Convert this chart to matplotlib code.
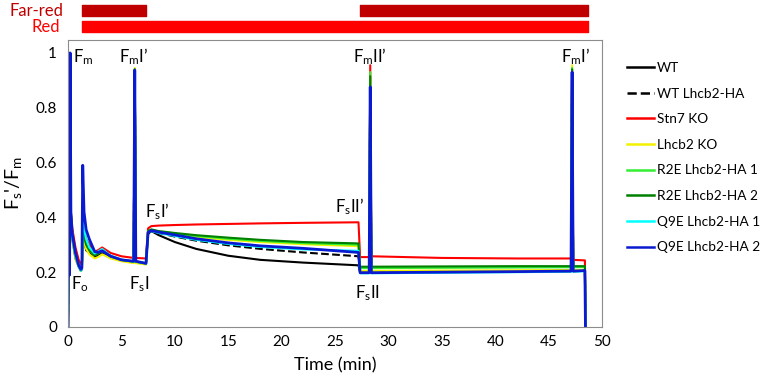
import numpy as np
import matplotlib
matplotlib.use("Agg")
from matplotlib import pyplot as plt
from matplotlib.lines import Line2D

plt.rcParams['font.family'] = ['Lato', 'DejaVu Sans']
plt.rcParams['mathtext.fontset'] = 'custom'
plt.rcParams['mathtext.rm'] = 'Lato'

# time points (min), shared by all traces
time_min = [0.0, 0.03, 0.15, 0.2, 0.27, 0.4, 0.7, 1.0, 1.2, 1.3, 1.38, 1.5, 1.7, 2.0,
            2.5, 2.8, 3.2, 3.6, 4.0, 5.0, 6.15, 6.25, 6.35, 7.3, 7.5, 7.8, 8.5, 10.0,
            12.0, 15.0, 18.0, 22.0, 27.2, 27.35, 28.2, 28.3, 28.4, 35.0, 42.0, 47.1,
            47.2, 47.3, 48.4, 48.45]

wt = [0, 0.19, 0.19, 0.99, 0.40, 0.32, 0.25, 0.22, 0.205, 0.21, 0.34, 0.32, 0.28, 0.27,
      0.255, 0.26, 0.27, 0.262, 0.255, 0.243, 0.236, 0.93, 0.236, 0.23, 0.34, 0.35, 0.335, 0.31,
      0.285, 0.26, 0.245, 0.235, 0.225, 0.198, 0.198, 0.86, 0.198, 0.2, 0.202, 0.203,
      0.92, 0.203, 0.205, 0]
wt_ha = [0, 0.19, 0.19, 0.99, 0.41, 0.33, 0.26, 0.225, 0.21, 0.215, 0.35, 0.33, 0.30, 0.28,
         0.26, 0.265, 0.275, 0.265, 0.257, 0.245, 0.238, 0.93, 0.238, 0.232, 0.345, 0.35, 0.343, 0.33,
         0.315, 0.298, 0.285, 0.272, 0.258, 0.2, 0.2, 0.86, 0.2, 0.202, 0.204, 0.205,
         0.92, 0.205, 0.206, 0]
stn7 = [0, 0.2, 0.2, 0.99, 0.42, 0.36, 0.29, 0.245, 0.23, 0.235, 0.37, 0.35, 0.32, 0.30,
        0.275, 0.28, 0.29, 0.28, 0.27, 0.258, 0.252, 0.94, 0.252, 0.25, 0.36, 0.368, 0.37, 0.372,
        0.374, 0.376, 0.378, 0.38, 0.382, 0.255, 0.255, 0.955, 0.258, 0.252, 0.25, 0.25,
        0.94, 0.245, 0.243, 0]
lhcb2_ko = [0, 0.19, 0.19, 0.99, 0.40, 0.32, 0.25, 0.22, 0.205, 0.21, 0.33, 0.31, 0.285, 0.265,
            0.25, 0.255, 0.265, 0.258, 0.25, 0.24, 0.233, 0.945, 0.233, 0.228, 0.35, 0.352, 0.345, 0.337,
            0.328, 0.318, 0.31, 0.302, 0.295, 0.205, 0.205, 0.9, 0.205, 0.206, 0.207, 0.208,
            0.955, 0.208, 0.209, 0]
r2e_1 = [0, 0.19, 0.19, 0.99, 0.41, 0.33, 0.26, 0.222, 0.207, 0.212, 0.35, 0.33, 0.30, 0.28,
         0.262, 0.268, 0.278, 0.268, 0.258, 0.245, 0.238, 0.94, 0.238, 0.232, 0.35, 0.355, 0.348, 0.34,
         0.332, 0.322, 0.314, 0.306, 0.3, 0.215, 0.215, 0.93, 0.215, 0.216, 0.217, 0.218,
         0.945, 0.218, 0.219, 0]
r2e_2 = [0, 0.19, 0.19, 0.99, 0.41, 0.33, 0.26, 0.222, 0.207, 0.212, 0.35, 0.33, 0.30, 0.28,
         0.262, 0.268, 0.278, 0.268, 0.258, 0.245, 0.238, 0.94, 0.238, 0.232, 0.35, 0.356, 0.35, 0.343,
         0.335, 0.326, 0.318, 0.31, 0.305, 0.22, 0.22, 0.915, 0.22, 0.221, 0.222, 0.222,
         0.94, 0.222, 0.222, 0]
q9e_1 = [0, 0.19, 0.19, 0.99, 0.41, 0.33, 0.26, 0.22, 0.205, 0.21, 0.40, 0.36, 0.32, 0.29,
         0.268, 0.275, 0.285, 0.272, 0.26, 0.246, 0.239, 0.935, 0.239, 0.232, 0.345, 0.35, 0.343, 0.332,
         0.318, 0.303, 0.292, 0.283, 0.278, 0.196, 0.196, 0.87, 0.196, 0.198, 0.2, 0.202,
         0.92, 0.202, 0.203, 0]
q9e_2 = [0, 0.19, 0.19, 1.0, 0.42, 0.34, 0.27, 0.225, 0.21, 0.215, 0.59, 0.42, 0.355, 0.32,
         0.275, 0.272, 0.278, 0.268, 0.258, 0.245, 0.24, 0.937, 0.24, 0.232, 0.345, 0.352, 0.346, 0.336,
         0.322, 0.307, 0.296, 0.287, 0.272, 0.198, 0.198, 0.876, 0.198, 0.2, 0.202, 0.204,
         0.93, 0.204, 0.206, 0]

labels = ['WT', 'WT Lhcb2-HA', 'Stn7 KO', 'Lhcb2 KO', 'R2E Lhcb2-HA 1',
          'R2E Lhcb2-HA 2', 'Q9E Lhcb2-HA 1', 'Q9E Lhcb2-HA 2']
series = [wt, wt_ha, stn7, lhcb2_ko, r2e_1, r2e_2, q9e_1, q9e_2]
colors = ['black', 'black', '#ff0000', '#f2f200', '#33ee33', '#008000', '#00ffff', '#0a1ad0']
styles = ['-', '--', '-', '-', '-', '-', '-', '-']
widths = [1.5, 1.5, 1.5, 1.5, 1.5, 1.5, 1.5, 2.0]

# light periods (min)
far_red_on = [(1.3, 7.3), (27.3, 48.7)]
red_on = [(1.3, 48.7)]

fig = plt.figure(figsize=(7.62, 3.84), dpi=100)
ax = fig.add_axes([68/762, 1 - 327/384, 534/762, 287/384])

for y, lab, c, ls, lw in zip(series, labels, colors, styles, widths):
    ax.plot(time_min, y, color=c, ls=ls, lw=lw, label=lab)

ax.set_xlim(0, 50)
ax.set_ylim(0, 1.047)
ax.set_xticks(np.arange(0, 51, 5))
ax.set_yticks([0, 0.2, 0.4, 0.6, 0.8, 1])
ax.set_yticklabels(['0', '0.2', '0.4', '0.6', '0.8', '1'])
ax.tick_params(length=0, labelsize=11, pad=8)
ax.tick_params(axis='x', pad=6)
for s in ax.spines.values():
    s.set_color('#8c8c8c')
ax.set_xlabel('Time (min)', fontsize=13, labelpad=6)
ax.set_ylabel(r"$\mathregular{F_s}$'/$\mathregular{F_m}$", fontsize=14, labelpad=8)

# annotations
fs = 12
ax.text(0.5, 0.985, r'$\mathregular{F_m}$', fontsize=fs, ha='left', va='center')
ax.text(6.1, 0.985, r'$\mathregular{F_m}$I’', fontsize=fs, ha='center', va='center')
ax.text(28.3, 0.985, r'$\mathregular{F_m}$II’', fontsize=fs, ha='center', va='center')
ax.text(47.5, 0.985, r'$\mathregular{F_m}$I’', fontsize=fs, ha='center', va='center')
ax.text(0.3, 0.155, r'$\mathregular{F_o}$', fontsize=fs, ha='left', va='center')
ax.text(6.7, 0.155, r'$\mathregular{F_s}$I', fontsize=fs, ha='center', va='center')
ax.text(8.4, 0.42, r'$\mathregular{F_s}$I’', fontsize=fs, ha='center', va='center')
ax.text(26.4, 0.44, r'$\mathregular{F_s}$II’', fontsize=fs, ha='center', va='center')
ax.text(28.0, 0.125, r'$\mathregular{F_s}$II', fontsize=fs, ha='center', va='center')

# light bars on top
axb = fig.add_axes([68/762, 1 - 33/384, 534/762, 30/384])
axb.set_xlim(0, 50)
axb.set_ylim(33, 3)
axb.broken_barh([(a, b - a) for a, b in far_red_on], (5, 11), color='#c00000')
axb.broken_barh([(a, b - a) for a, b in red_on], (21, 11), color='#ff0000')
axb.axis('off')
fig.text(63/762, 1 - 10.5/384, 'Far-red', color='#c00000', fontsize=12, ha='right', va='center')
fig.text(60/762, 1 - 27/384, 'Red', color='#ff0000', fontsize=12, ha='right', va='center')

handles = [Line2D([], [], color=c, ls=ls, lw=1.8) for c, ls in zip(colors, styles)]
fig.legend(handles, labels, loc='upper left', bbox_to_anchor=(627/762, 1 - 62/384),
           frameon=False, fontsize=9.8, handlelength=2.0, handletextpad=0.2,
           labelspacing=1.0, borderpad=0, borderaxespad=0)

fig.savefig('out.png', dpi=100)
